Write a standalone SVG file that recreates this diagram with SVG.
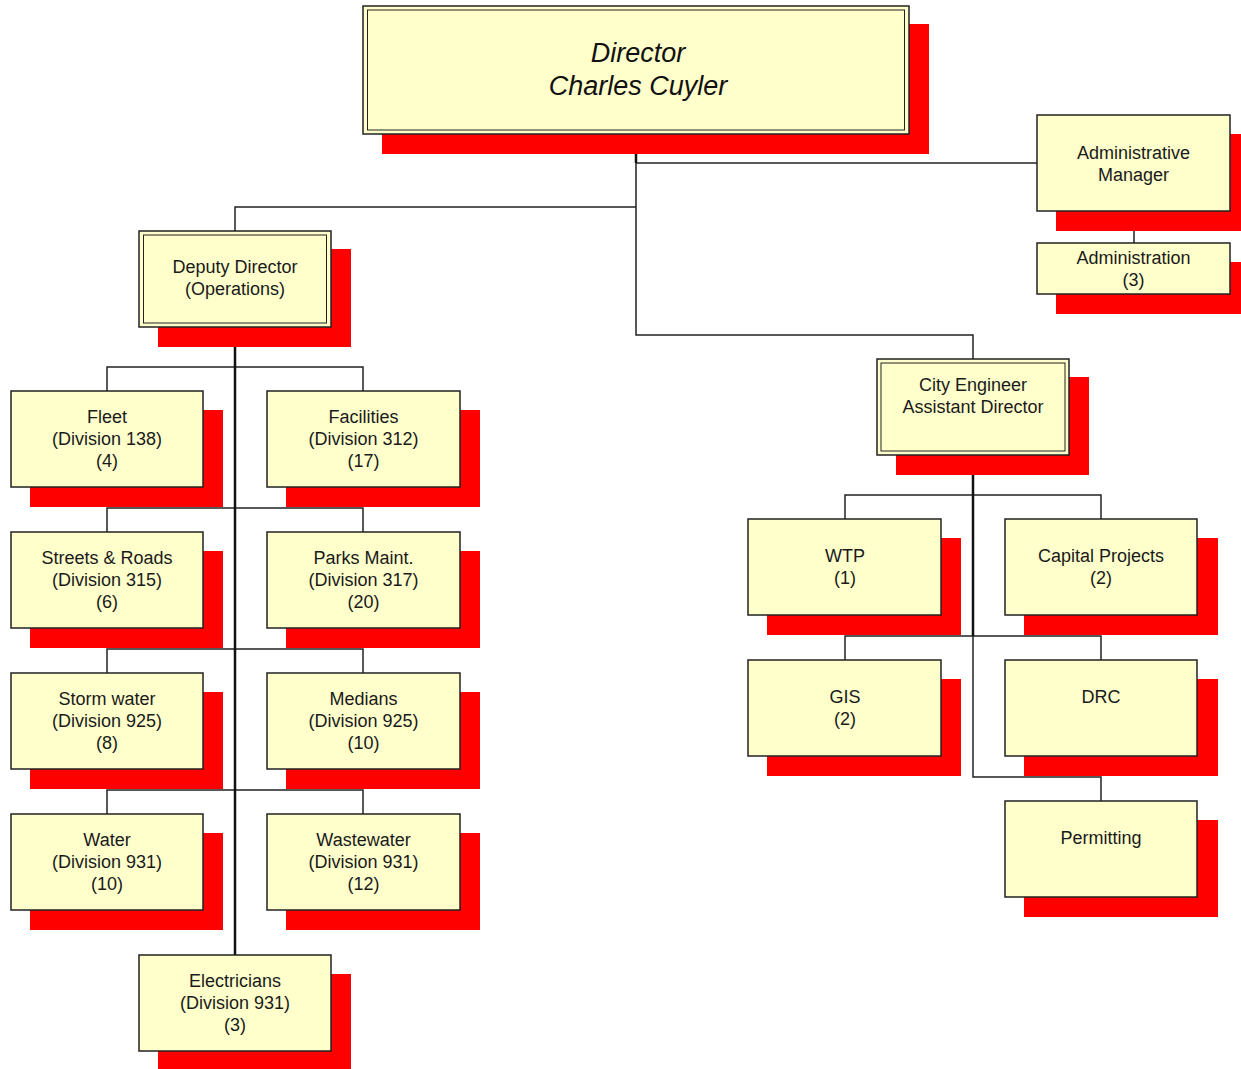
<svg xmlns="http://www.w3.org/2000/svg" width="1241" height="1069" viewBox="0 0 1241 1069">
<style>
.sh{fill:#ff0000}
.bx{fill:#ffffcc;stroke:#222;stroke-width:1.5}
.in{fill:none;stroke:#222;stroke-width:1}
.t{font-family:"Liberation Sans",Arial,sans-serif;font-size:18px;fill:#1a1a1a;text-anchor:middle}
.tt{font-family:"Liberation Sans",Arial,sans-serif;font-size:27px;font-style:italic;fill:#111;text-anchor:middle}
.c{fill:none;stroke:#222;stroke-width:1.5}
.ck{fill:none;stroke:#111;stroke-width:2.5}
</style>
<rect width="1241" height="1069" fill="#fff"/>
<g id="connectors">
<path class="c" d="M636,134 V335 H973 V359"/>
<path class="ck" d="M636,134 V163"/>
<path class="c" d="M636,163 H1037"/>
<path class="c" d="M636,207 H235 V231"/>
<path class="c" d="M1134,211 V243"/>
<path class="c" d="M107,391 V367 H363 V391"/>
<path class="c" d="M107,532 V508 H363 V532"/>
<path class="c" d="M107,673 V649 H363 V673"/>
<path class="c" d="M107,814 V790 H363 V814"/>
<path class="ck" d="M235,327 V955"/>
<path class="c" d="M845,519 V495 H1101 V519"/>
<path class="c" d="M845,660 V636 H1101 V660"/>
<path class="c" d="M973,636 V777 H1101 V801"/>
<path class="ck" d="M973,455 V636"/>
</g>
<g id="director">
<rect class="sh" x="382" y="24" width="547" height="130"/>
<rect class="bx" x="363" y="6" width="546" height="128"/>
<rect class="in" x="367.5" y="10" width="537" height="120"/>
<text class="tt" x="638" y="62">Director</text>
<text class="tt" x="638" y="95">Charles Cuyler</text>
</g>
<g id="admin-manager">
<rect class="sh" x="1056" y="134" width="193" height="97"/>
<rect class="bx" x="1037" y="115" width="193" height="96"/>
<text class="t" x="1133.5" y="159">Administrative</text>
<text class="t" x="1133.5" y="181">Manager</text>
</g>
<g id="administration">
<rect class="sh" x="1056" y="262" width="193" height="52"/>
<rect class="bx" x="1037" y="243" width="193" height="51"/>
<text class="t" x="1133.5" y="264">Administration</text>
<text class="t" x="1133.5" y="286">(3)</text>
</g>
<g id="deputy">
<rect class="sh" x="158" y="249" width="193" height="98"/>
<rect class="bx" x="139" y="231" width="192" height="96"/>
<rect class="in" x="143.5" y="235" width="183" height="88"/>
<text class="t" x="235" y="273">Deputy Director</text>
<text class="t" x="235" y="295">(Operations)</text>
</g>
<g id="fleet">
<rect class="sh" x="30" y="410" width="193" height="97"/>
<rect class="bx" x="11" y="391" width="192" height="96"/>
<text class="t" x="107" y="423">Fleet</text>
<text class="t" x="107" y="445">(Division 138)</text>
<text class="t" x="107" y="467">(4)</text>
</g>
<g id="facilities">
<rect class="sh" x="286" y="410" width="194" height="97"/>
<rect class="bx" x="267" y="391" width="193" height="96"/>
<text class="t" x="363.5" y="423">Facilities</text>
<text class="t" x="363.5" y="445">(Division 312)</text>
<text class="t" x="363.5" y="467">(17)</text>
</g>
<g id="streets">
<rect class="sh" x="30" y="551" width="193" height="97"/>
<rect class="bx" x="11" y="532" width="192" height="96"/>
<text class="t" x="107" y="564">Streets &amp; Roads</text>
<text class="t" x="107" y="586">(Division 315)</text>
<text class="t" x="107" y="608">(6)</text>
</g>
<g id="parks">
<rect class="sh" x="286" y="551" width="194" height="97"/>
<rect class="bx" x="267" y="532" width="193" height="96"/>
<text class="t" x="363.5" y="564">Parks Maint.</text>
<text class="t" x="363.5" y="586">(Division 317)</text>
<text class="t" x="363.5" y="608">(20)</text>
</g>
<g id="storm">
<rect class="sh" x="30" y="692" width="193" height="97"/>
<rect class="bx" x="11" y="673" width="192" height="96"/>
<text class="t" x="107" y="705">Storm water</text>
<text class="t" x="107" y="727">(Division 925)</text>
<text class="t" x="107" y="749">(8)</text>
</g>
<g id="medians">
<rect class="sh" x="286" y="692" width="194" height="97"/>
<rect class="bx" x="267" y="673" width="193" height="96"/>
<text class="t" x="363.5" y="705">Medians</text>
<text class="t" x="363.5" y="727">(Division 925)</text>
<text class="t" x="363.5" y="749">(10)</text>
</g>
<g id="water">
<rect class="sh" x="30" y="833" width="193" height="97"/>
<rect class="bx" x="11" y="814" width="192" height="96"/>
<text class="t" x="107" y="846">Water</text>
<text class="t" x="107" y="868">(Division 931)</text>
<text class="t" x="107" y="890">(10)</text>
</g>
<g id="wastewater">
<rect class="sh" x="286" y="833" width="194" height="97"/>
<rect class="bx" x="267" y="814" width="193" height="96"/>
<text class="t" x="363.5" y="846">Wastewater</text>
<text class="t" x="363.5" y="868">(Division 931)</text>
<text class="t" x="363.5" y="890">(12)</text>
</g>
<g id="electricians">
<rect class="sh" x="158" y="974" width="193" height="95"/>
<rect class="bx" x="139" y="955" width="192" height="96"/>
<text class="t" x="235" y="987">Electricians</text>
<text class="t" x="235" y="1009">(Division 931)</text>
<text class="t" x="235" y="1031">(3)</text>
</g>
<g id="city-engineer">
<rect class="sh" x="896" y="377" width="193" height="98"/>
<rect class="bx" x="877" y="359" width="192" height="96"/>
<rect class="in" x="881" y="363" width="184" height="88"/>
<text class="t" x="973" y="391">City Engineer</text>
<text class="t" x="973" y="413">Assistant Director</text>
</g>
<g id="wtp">
<rect class="sh" x="767" y="538" width="194" height="97"/>
<rect class="bx" x="748" y="519" width="193" height="96"/>
<text class="t" x="845" y="562">WTP</text>
<text class="t" x="845" y="584">(1)</text>
</g>
<g id="capital-projects">
<rect class="sh" x="1024" y="538" width="194" height="97"/>
<rect class="bx" x="1005" y="519" width="192" height="96"/>
<text class="t" x="1101" y="562">Capital Projects</text>
<text class="t" x="1101" y="584">(2)</text>
</g>
<g id="gis">
<rect class="sh" x="767" y="679" width="194" height="97"/>
<rect class="bx" x="748" y="660" width="193" height="96"/>
<text class="t" x="845" y="703">GIS</text>
<text class="t" x="845" y="725">(2)</text>
</g>
<g id="drc">
<rect class="sh" x="1024" y="679" width="194" height="97"/>
<rect class="bx" x="1005" y="660" width="192" height="96"/>
<text class="t" x="1101" y="703">DRC</text>
</g>
<g id="permitting">
<rect class="sh" x="1024" y="820" width="194" height="97"/>
<rect class="bx" x="1005" y="801" width="192" height="96"/>
<text class="t" x="1101" y="844">Permitting</text>
</g>
</svg>
